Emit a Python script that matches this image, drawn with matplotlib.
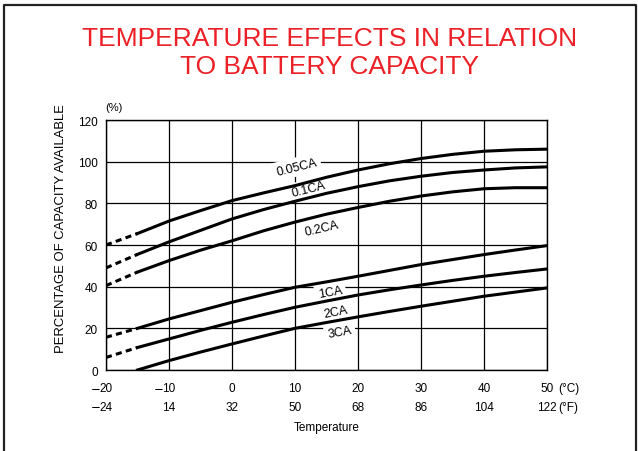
import matplotlib
matplotlib.use("Agg")
import matplotlib.pyplot as plt
from matplotlib.transforms import blended_transform_factory, offset_copy
from matplotlib.lines import Line2D

plt.rcParams['font.family'] = ['Liberation Sans', 'DejaVu Sans']

# temperature points (deg C)
temps = [-20, -15, -10, -5, 0, 5, 10, 15, 20, 25, 30, 35, 40, 45, 50]
temps_3ca = temps[1:]

cap_005 = [60, 65.5, 71.5, 76.5, 81.3, 85, 88.5, 92.5, 96, 99, 101.5, 103.5, 105, 105.7, 106]
cap_01 = [49, 55.5, 61.5, 67, 72.5, 77, 81, 84.8, 88, 90.8, 93, 94.8, 96, 97, 97.5]
cap_02 = [40.5, 47, 52.5, 57.5, 62, 66.8, 71, 74.8, 78, 81, 83.5, 85.5, 87, 87.5, 87.5]
cap_1 = [15.7, 20, 24.5, 28.5, 32.5, 36.2, 39.7, 42.3, 45, 47.8, 50.6, 53, 55.4, 57.6, 59.7]
cap_2 = [6, 10.8, 14.9, 19, 22.9, 26.6, 30.1, 33.1, 36, 38.5, 40.8, 43, 45, 46.8, 48.5]
cap_3 = [0, 4.5, 8.6, 12.5, 16.3, 20, 22.8, 25.5, 28.1, 30.6, 33, 35.4, 37.4, 39.4]

curve_names = ["0.05CA", "0.1CA", "0.2CA", "1CA", "2CA", "3CA"]
label_x = [10.3, 12.1, 14.3, 15.6, 16.4, 17.1]
label_y = [97.5, 86.9, 68.2, 37.4, 27.8, 18.2]
label_rot = [14, 14, 13, 10, 11, 10]

ticks_c = [-20, -10, 0, 10, 20, 30, 40, 50]
ticks_f = [-24, 14, 32, 50, 68, 86, 104, 122]
ticks_y = [0, 20, 40, 60, 80, 100, 120]

fig = plt.figure(figsize=(6.38, 4.52), dpi=100)
ax = fig.add_axes([0.1661, 0.1792, 0.6912, 0.5531])

ax.set_xlim(-20, 50)
ax.set_ylim(0, 120)
ax.set_xticks(ticks_c)
ax.set_yticks(ticks_y)
ax.set_xticklabels([])
ax.tick_params(length=0)
ax.tick_params(axis='y', labelsize=8.5, pad=6)
ax.grid(True, color='black', lw=0.9, zorder=1)
ax.set_axisbelow(True)
for s in ax.spines.values():
    s.set_linewidth(1.0)

lw = 2.2
all_curves = [(temps, cap_005), (temps, cap_01), (temps, cap_02),
              (temps, cap_1), (temps, cap_2), (temps_3ca, cap_3)]
for t, v in all_curves:
    if t[0] == -20:
        ax.plot(t[:2], v[:2], color='black', lw=lw, ls=(0, (2.0, 1.4)),
                solid_capstyle='butt', zorder=4)
        ax.plot(t[1:], v[1:], color='black', lw=lw, zorder=4)
    else:
        ax.plot(t, v, color='black', lw=lw, zorder=4)

for name, x, y, r in zip(curve_names, label_x, label_y, label_rot):
    ax.text(x, y, name, fontsize=9, rotation=r, ha='center', va='center',
            rotation_mode='anchor', zorder=3,
            bbox=dict(facecolor='white', edgecolor='none', pad=2.5))

# two rows of temperature tick labels
trans = blended_transform_factory(ax.transData, ax.transAxes)
for c, f in zip(ticks_c, ticks_f):
    for val, yy in ((c, -0.072), (f, -0.146)):
        digits = str(abs(val))
        ax.text(c, yy, digits, fontsize=8.5, ha='center', va='center',
                transform=trans, clip_on=False)
        if val < 0:
            half = 0.556 * 8.5 * len(digits) / 2 - 0.6
            ax.text(c, yy, "\u2212", fontsize=8.5, ha='right', va='center',
                    family='DejaVu Sans',
                    transform=offset_copy(trans, fig=fig, x=-half, y=0, units='points'),
                    clip_on=False)

ax.text(1.025, -0.072, "(°C)", fontsize=8.5, ha='left', va='center',
        transform=ax.transAxes)
ax.text(1.025, -0.146, "(°F)", fontsize=8.5, ha='left', va='center',
        transform=ax.transAxes)
ax.text(0.5, -0.228, "Temperature", fontsize=8.5, ha='center', va='center',
        transform=ax.transAxes)
ax.text(0.018, 1.052, "(%)", fontsize=8, ha='center', va='center',
        transform=ax.transAxes)

fig.text(61.5 / 638, 1 - 229 / 452, "PERCENTAGE OF CAPACITY AVAILABLE",
         rotation=90, ha='center', va='center', fontsize=9.4)

red = '#ec2027'
fig.text(330 / 638, 1 - 39 / 452, "TEMPERATURE EFFECTS IN RELATION",
         color=red, fontsize=19, ha='center', va='center')
fig.text(330 / 638, 1 - 67 / 452, "TO BATTERY CAPACITY",
         color=red, fontsize=19, ha='center', va='center')

# frame around the figure (open at the bottom)
fx = [4 / 638, 4 / 638, 636 / 638, 636 / 638]
fy = [0, 1 - 6 / 452, 1 - 6 / 452, 0]
fig.add_artist(Line2D(fx, fy, transform=fig.transFigure, color='#222222', lw=1.6))

fig.savefig("out.png", dpi=100)
